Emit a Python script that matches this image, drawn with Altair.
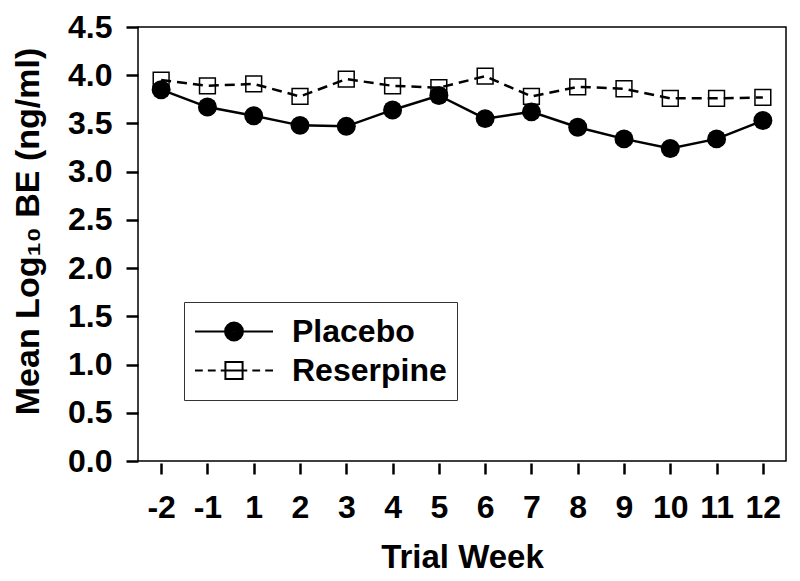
import altair as alt
import pandas as pd

weeks = ["-2", "-1", "1", "2", "3", "4", "5", "6", "7", "8", "9", "10", "11", "12"]
placebo = [3.85, 3.67, 3.58, 3.48, 3.47, 3.64, 3.79, 3.55, 3.62, 3.46, 3.34, 3.24, 3.34, 3.53]
reserpine = [3.95, 3.89, 3.91, 3.78, 3.96, 3.89, 3.87, 3.99, 3.78, 3.88, 3.86, 3.76, 3.76, 3.77]
groups = ["Placebo", "Reserpine"]
y_ticks = [0.0, 0.5, 1.0, 1.5, 2.0, 2.5, 3.0, 3.5, 4.0, 4.5]

rows = []
for w, p, r in zip(weeks, placebo, reserpine):
    rows.append({"week": w, "group": "Placebo", "value": p})
    rows.append({"week": w, "group": "Reserpine", "value": r})
df = pd.DataFrame(rows)

FONT = "Liberation Sans"


def ring(r):
    return f"M{r},0A{r},{r},0,1,1,-{r},0A{r},{r},0,1,1,{r},0"


# legend symbols: line with marker drawn as custom SVG paths (unit coordinates);
# the filled disc is built from concentric stroked rings
P_PATH = "M-1,0L-0.23,0M0.23,0L1,0" + "".join(ring(r) for r in (0.23, 0.18, 0.13, 0.08, 0.03))
R_PATH = ("M-1,0L-0.8,0M-0.67,0L-0.47,0M-0.34,0L0.34,0M0.47,0L0.67,0M0.8,0L1,0"
          "M-0.22,-0.22L0.22,-0.22L0.22,0.22L-0.22,0.22Z")

x = alt.X(
    "week:O",
    sort=weeks,
    scale=alt.Scale(type="point", padding=0.5),
    axis=alt.Axis(
        title="Trial Week",
        labelAngle=0,
        domain=False,
        grid=False,
        offset=2,
        tickSize=11,
        tickWidth=2.5,
        tickColor="black",
        labelFont=FONT,
        labelFontSize=32,
        labelFontWeight="bold",
        labelColor="black",
        labelPadding=18,
        labelOverlap=False,
        titleFont=FONT,
        titleFontSize=33,
        titleFontWeight="bold",
        titleColor="black",
        titleAlign="center",
        titleBaseline="alphabetic",
        titleX=324,
        titleY=104,
    ),
)
y = alt.Y(
    "value:Q",
    scale=alt.Scale(domain=[0, 4.5], nice=False, zero=True),
    axis=alt.Axis(
        title="Mean Log₁₀ BE (ng/ml)",
        values=y_ticks,
        format=".1f",
        domain=False,
        grid=False,
        tickSize=12,
        tickWidth=2.5,
        tickColor="black",
        labelFont=FONT,
        labelFontSize=32,
        labelFontWeight="bold",
        labelColor="black",
        labelPadding=14,
        labelOverlap=False,
        titleFont=FONT,
        titleFontSize=34,
        titleFontWeight="bold",
        titleColor="black",
        titleAngle=270,
        titleAlign="center",
        titleBaseline="alphabetic",
        titleX=-100,
        titleY=204,
    ),
)

base = alt.Chart(df).encode(x=x, y=y)

line_p = base.transform_filter(alt.datum.group == "Placebo").mark_line(
    color="black", strokeWidth=2.5
)
line_r = base.transform_filter(alt.datum.group == "Reserpine").mark_line(
    color="black", strokeWidth=2.5, strokeDash=[10, 6]
)

circles = base.transform_filter(alt.datum.group == "Placebo").mark_circle(
    size=360, color="black", opacity=1
)

squares = base.transform_filter(alt.datum.group == "Reserpine").mark_point(
    shape="square", filled=False, color="black", strokeWidth=1.5, size=250, opacity=1
)

leg = alt.Legend(
    title=None,
    orient="none",
    legendX=46,
    legendY=275,
    direction="vertical",
    symbolSize=6084,
    symbolStrokeColor="black",
    symbolStrokeWidth=2,
    labelFont=FONT,
    labelFontSize=32,
    labelFontWeight="bold",
    labelColor="black",
    labelOffset=18,
    labelLimit=400,
    clipHeight=39,
    rowPadding=0,
    padding=10,
    strokeColor="#333333",
    fillColor="white",
)

# a layer with no visible rows, only to carry the legend (explicit scale domain)
legend_layer = base.transform_filter(alt.datum.value < 0).mark_point(
    filled=False, opacity=1, color="black", strokeWidth=2
).encode(
    shape=alt.Shape("group:N", scale=alt.Scale(domain=groups, range=[P_PATH, R_PATH]), legend=leg),
)

chart = (
    alt.layer(line_p, line_r, circles, squares, legend_layer)
    .properties(
        width=648,
        height=434,
        autosize=alt.AutoSizeParams(type="none"),
        padding={"left": 130, "top": 19, "right": 6, "bottom": 112},
        background="white",
    )
    .configure_view(stroke="black", strokeWidth=1.5)
)

chart.save("out.html", embed_options={"renderer": "svg", "actions": False})
